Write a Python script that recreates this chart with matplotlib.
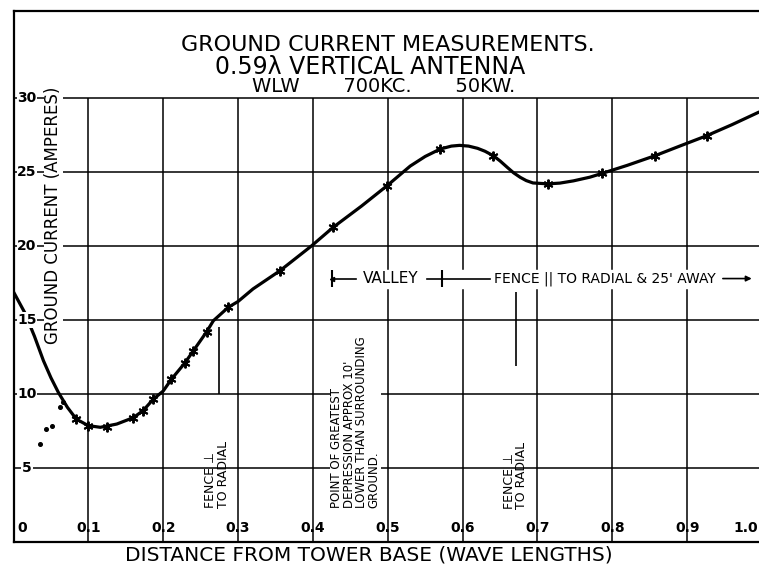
import matplotlib.pyplot as plt

# curve (distance in wave lengths, current in amperes)
dist = [0.0, 0.015, 0.028, 0.04, 0.05, 0.06, 0.072, 0.084, 0.1, 0.116, 0.138,
        0.16, 0.173, 0.187, 0.2, 0.211, 0.229, 0.24, 0.258, 0.267, 0.287, 0.3,
        0.32, 0.356, 0.398, 0.427, 0.465, 0.499, 0.53, 0.55, 0.57, 0.585,
        0.596, 0.608, 0.62, 0.63, 0.641, 0.65, 0.66, 0.668, 0.677, 0.685,
        0.694, 0.714, 0.73, 0.748, 0.77, 0.786, 0.82, 0.857, 0.89, 0.926,
        0.96, 0.996]
current = [16.9, 15.5, 13.9, 12.25, 11.1, 10.1, 9.1, 8.3, 7.86, 7.75, 7.97,
           8.4, 8.87, 9.66, 10.2, 11.0, 12.1, 12.9, 14.2, 14.95, 15.86, 16.25,
           17.1, 18.33, 20.0, 21.26, 22.7, 24.07, 25.4, 26.05, 26.55, 26.75,
           26.8, 26.75, 26.6, 26.4, 26.1, 25.75, 25.3, 24.95, 24.64, 24.42,
           24.26, 24.2, 24.25, 24.4, 24.65, 24.9, 25.45, 26.1, 26.75, 27.45,
           28.2, 29.05]

# measured points (star marks)
meas_x = [0.084, 0.1, 0.125, 0.16, 0.173, 0.187, 0.211, 0.229, 0.24, 0.258,
          0.287, 0.356, 0.427, 0.499, 0.57, 0.641, 0.714, 0.786, 0.857, 0.926]
meas_y = [8.3, 7.86, 7.8, 8.4, 8.87, 9.66, 11.0, 12.1, 12.9, 14.2,
          15.86, 18.33, 21.26, 24.07, 26.55, 26.1, 24.2, 24.9, 26.1, 27.45]

# dotted branch near the tower
dot_x = [0.035, 0.044, 0.051, 0.062, 0.066]
dot_y = [6.62, 7.64, 7.86, 9.1, 9.45]

x_grid = [0.1, 0.2, 0.3, 0.4, 0.5, 0.6, 0.7, 0.8, 0.9]
x_labels = ["0", "0.1", "0.2", "0.3", "0.4", "0.5", "0.6", "0.7", "0.8", "0.9", "1.0"]
y_grid = [5, 10, 15, 20, 25, 30]
y_labels = ["5", "10", "15", "20", "25", "30"]

W, H = 759, 567
fig = plt.figure(figsize=(W / 100, H / 100), dpi=100)
ax = fig.add_axes([13.5 / W, (H - 542) / H, (W - 13.5) / W, (542 - 11) / H])
xmax = (W - 13.5) / 748.5
ax.set_xlim(0, xmax)
ax.set_ylim(0, (542 - 11) / 14.8)
ax.set_xticks([])
ax.set_yticks([])
for s in ["left", "top", "bottom"]:
    ax.spines[s].set_linewidth(1.6)
ax.spines["right"].set_visible(False)

ax.hlines(y_grid, 0, xmax, color="black", lw=1.1, zorder=1)
ax.vlines(x_grid, 0, 30, color="black", lw=1.1, zorder=1)

ax.plot(dist, current, color="black", lw=2.3, zorder=3,
        solid_joinstyle="round", solid_capstyle="round")
ax.plot(meas_x, meas_y, ls="none", marker=(6, 2, 0), ms=7, mew=1.4,
        color="black", zorder=4)
ax.plot(dot_x, dot_y, ls="none", marker="o", ms=2.6, color="black", zorder=3)

# tick labels inside the frame
wb = dict(facecolor="white", edgecolor="none", pad=0.5)
for v, lab in zip(y_grid, y_labels):
    ax.text(0.018, v, lab, ha="center", va="center", fontsize=10,
            fontweight="bold", bbox=wb, zorder=5)
xs = [0.011] + x_grid + [0.978]
for v, lab in zip(xs, x_labels):
    ax.text(v, 0.95, lab, ha="center", va="center", fontsize=10,
            fontweight="bold", zorder=5)

ax.text(0.053, 22.1, "GROUND CURRENT (AMPERES)", rotation=90, ha="center",
        va="center", fontsize=12, bbox=wb, zorder=5)
fig.text(369 / W, 1 - 555 / H, "DISTANCE FROM TOWER BASE (WAVE LENGTHS)",
         ha="center", va="center", fontsize=14.5)

# title block
ax.text(0.5, 33.55, "GROUND CURRENT MEASUREMENTS.", ha="center", va="center",
        fontsize=16)
ax.text(0.476, 32.1, "0.59λ VERTICAL ANTENNA", ha="center", va="center",
        fontsize=17)
ax.text(0.494, 30.75, "WLW       700KC.       50KW.", ha="center", va="center",
        fontsize=14)

# fences and notes
ax.vlines(0.274, 10, 14.5, color="black", lw=1.2)
ax.vlines(0.671, 11.9, 16.9, color="black", lw=1.2)
ax.text(0.272, 2.3, "FENCE ⊥\nTO RADIAL", rotation=90, ha="center", va="bottom",
        fontsize=9, linespacing=0.95, multialignment="left", zorder=5)
ax.text(0.671, 2.2, "FENCE ⊥\nTO RADIAL", rotation=90, ha="center", va="bottom",
        fontsize=9, linespacing=0.95, multialignment="left", zorder=5)
ax.text(0.457, 2.3, "POINT OF GREATEST\nDEPRESSION APPROX 10'\n"
        "LOWER THAN SURROUNDING\nGROUND.", rotation=90, ha="center",
        va="bottom", fontsize=8.5, linespacing=0.95, multialignment="left",
        bbox=dict(facecolor="white", edgecolor="none", pad=0), zorder=5)

yv = 17.8
ax.hlines(yv, 0.42, xmax, color="white", lw=14, zorder=2)
ax.vlines([0.425, 0.572], yv - 0.55, yv + 0.55, color="black", lw=1.5, zorder=5)
ax.plot([0.425, 0.458], [yv, yv], color="black", lw=1.2, marker="<",
        markevery=[0], ms=3, zorder=5)
ax.text(0.504, yv, "VALLEY", ha="center", va="center", fontsize=11, zorder=5)
ax.plot([0.552, 0.637], [yv, yv], color="black", lw=1.2, zorder=5)
ax.text(0.79, yv, "FENCE || TO RADIAL & 25' AWAY", ha="center", va="center",
        fontsize=10, zorder=5)
ax.annotate("", xy=(0.99, yv), xytext=(0.944, yv),
            arrowprops=dict(arrowstyle="-|>", color="black", lw=1.2,
                            mutation_scale=8), zorder=5)

fig.savefig("out.png", dpi=100)
